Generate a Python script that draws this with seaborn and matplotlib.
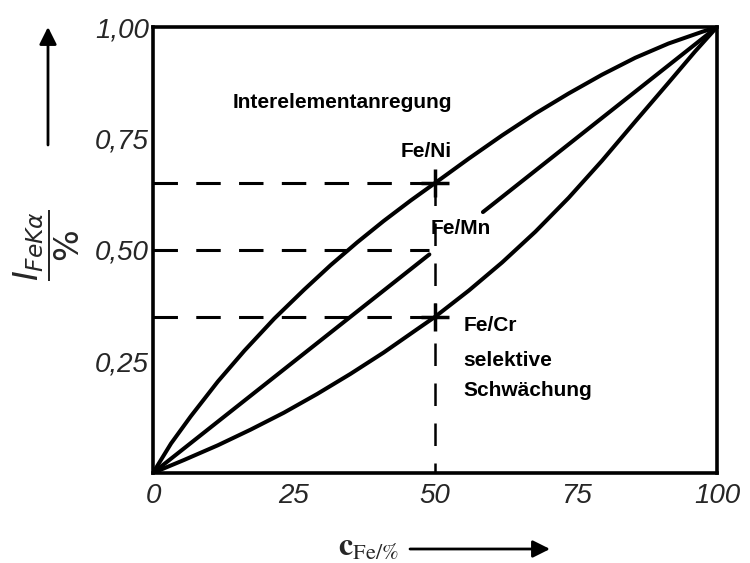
import numpy as np
import pandas as pd
import matplotlib
matplotlib.use("Agg")
import matplotlib.pyplot as plt
import seaborn as sns

# ---- data ----
ni_x = [0, 3.2, 6.7, 11.5, 16.2, 21.5, 26.8, 31.5, 36.2, 40.9, 45.7, 50,
        56, 61.9, 67.8, 73.7, 79.6, 85.5, 91.4, 97.3, 100]
ni_y = [0, 0.066, 0.127, 0.205, 0.274, 0.346, 0.411, 0.466, 0.517, 0.565, 0.611, 0.650,
        0.705, 0.757, 0.806, 0.851, 0.893, 0.931, 0.963, 0.989, 1.0]

mn_low_x = [0, 49.0]
mn_low_y = [0, 0.490]
mn_up_x = [58.5, 100]
mn_up_y = [0.585, 1.0]

cr_x = [0, 5.5, 11.5, 17.3, 23.2, 29.1, 35, 40.9, 46.8, 50,
        56, 61.9, 67.8, 73.7, 79.6, 85.5, 91.4, 96.1, 100]
cr_y = [0, 0.029, 0.062, 0.097, 0.135, 0.177, 0.222, 0.270, 0.322, 0.350,
        0.409, 0.472, 0.541, 0.617, 0.700, 0.788, 0.875, 0.945, 1.0]

ref_x = 50
ref_levels = [0.65, 0.50, 0.35]
ref_ends = [50, 49, 50]
marker_y = [0.65, 0.35]

x_ticks = [0, 25, 50, 75, 100]
x_ticklabels = ["0", "25", "50", "75", "100"]
y_ticks = [0.25, 0.50, 0.75, 1.00]
y_ticklabels = ["0,25", "0,50", "0,75", "1,00"]

sns.set_style("white")
plt.rcParams["font.family"] = ["DejaVu Sans"]

fig = plt.figure(figsize=(7.5, 5.63), dpi=100)
ax = fig.add_axes([0.204, 0.160, 0.752, 0.792])

curve_kw = dict(color="black", linewidth=2.9, sort=False, ax=ax, legend=False)
sns.lineplot(x=ni_x, y=ni_y, **curve_kw)
sns.lineplot(x=mn_low_x, y=mn_low_y, **curve_kw)
sns.lineplot(x=mn_up_x, y=mn_up_y, **curve_kw)
sns.lineplot(x=cr_x, y=cr_y, **curve_kw)

# dashed reference lines
for lvl, xe in zip(ref_levels, ref_ends):
    ax.plot([0, xe], [lvl, lvl], color="black", lw=2.2, ls=(0, (8, 6)), solid_capstyle="butt")
ax.plot([ref_x, ref_x], [ref_levels[0], 0], color="black", lw=1.8, ls=(0, (9, 7)))
sns.scatterplot(x=[ref_x] * len(marker_y), y=marker_y, marker="+", s=420,
                color="black", linewidth=2.5, ax=ax, legend=False, zorder=5)

ax.set_xlim(0, 100)
ax.set_ylim(0, 1)
ax.set_xticks(x_ticks)
ax.set_xticklabels(x_ticklabels)
ax.set_yticks(y_ticks)
ax.set_yticklabels(y_ticklabels)
ax.tick_params(axis="both", direction="in", length=6, width=2, labelsize=20)
ax.tick_params(axis="x", pad=7)
ax.tick_params(axis="y", pad=3)
for lbl in ax.get_xticklabels() + ax.get_yticklabels():
    lbl.set_fontstyle("italic")
    lbl.set_family(["Liberation Sans", "DejaVu Sans"])
for sp in ax.spines.values():
    sp.set_visible(True)
    sp.set_linewidth(2.6)
    sp.set_color("black")
ax.set_xlabel("")
ax.set_ylabel("")

tkw = dict(fontsize=15, fontweight="bold", family=["Liberation Sans", "DejaVu Sans"], color="black")
ax.text(14.2, 0.83, "Interelementanregung", ha="left", va="center", **tkw)
ax.text(48.5, 0.72, "Fe/Ni", ha="center", va="center", **tkw)
ax.text(49.2, 0.549, "Fe/Mn", ha="left", va="center", **tkw)
ax.text(55.0, 0.33, "Fe/Cr", ha="left", va="center", **tkw)
ax.text(55.0, 0.253, "selektive", ha="left", va="center", **tkw)
ax.text(55.0, 0.184, "Schwächung", ha="left", va="center", **tkw)

# axis labels as figure text
fig.text(47 / 750, 1 - 245 / 563, r"$\dfrac{I_{FeK\alpha}}{\%}$", rotation=90,
         ha="center", va="center", fontsize=24, math_fontfamily="dejavusans")
fig.text(368 / 750, 1 - 547 / 563, r"$\mathbf{c}_{\mathrm{Fe/\%}}$",
         ha="center", va="center", fontsize=23, math_fontfamily="stix")

arrow_kw = dict(arrowstyle="-|>", lw=2.0, color="black", mutation_scale=26, shrinkA=0, shrinkB=0)
ax.annotate("", xy=(48, 563 - 27), xytext=(48, 563 - 145), xycoords="figure pixels",
            textcoords="figure pixels", arrowprops=arrow_kw, annotation_clip=False)
ax.annotate("", xy=(550, 563 - 549), xytext=(410, 563 - 549), xycoords="figure pixels",
            textcoords="figure pixels", arrowprops=arrow_kw, annotation_clip=False)

fig.savefig("out.png", dpi=100)
